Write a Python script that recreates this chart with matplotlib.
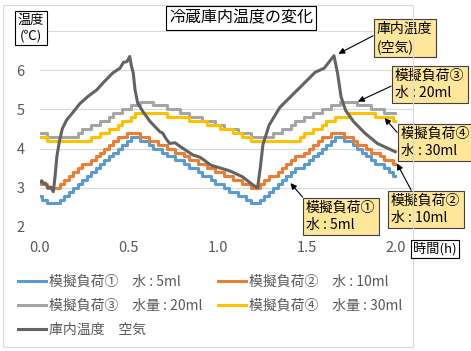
import matplotlib
matplotlib.use('Agg')
import matplotlib.pyplot as plt
from matplotlib.patches import Rectangle
import numpy as np

plt.rcParams['font.family'] = ['Noto Sans CJK JP', 'DejaVu Sans']

# 経過時間(h) 0.025h毎
t = np.linspace(0, 2.0, 81)

load1 = [2.8, 2.7, 2.6, 2.6, 2.6, 2.7, 2.8, 2.9, 3.0, 3.1, 3.2, 3.3, 3.4, 3.5, 3.6, 3.7, 3.8, 3.9, 4.0, 4.1,
         4.2, 4.3, 4.3, 4.2, 4.2, 4.1, 4.0, 4.0, 3.9, 3.8, 3.8, 3.7, 3.7, 3.6, 3.5, 3.5, 3.4, 3.3, 3.3, 3.2,
         3.1, 3.1, 3.0, 2.9, 2.9, 2.8, 2.8, 2.7, 2.6, 2.6, 2.7, 2.8, 2.9, 3.0, 3.1, 3.2, 3.3, 3.4, 3.5, 3.5,
         3.6, 3.7, 3.8, 3.9, 4.0, 4.1, 4.2, 4.3, 4.3, 4.2, 4.2, 4.1, 4.0, 3.9, 3.8, 3.7, 3.6, 3.6, 3.5, 3.4,
         3.3]
load2 = [3.1, 3.1, 3.0, 3.0, 3.0, 3.1, 3.2, 3.3, 3.4, 3.5, 3.6, 3.6, 3.7, 3.8, 3.9, 4.0, 4.1, 4.2, 4.3, 4.3,
         4.4, 4.4, 4.4, 4.3, 4.3, 4.2, 4.2, 4.1, 4.1, 4.0, 4.0, 3.9, 3.9, 3.8, 3.7, 3.7, 3.6, 3.6, 3.5, 3.5,
         3.4, 3.4, 3.3, 3.3, 3.2, 3.2, 3.1, 3.1, 3.0, 3.0, 3.1, 3.2, 3.3, 3.3, 3.4, 3.5, 3.6, 3.7, 3.8, 3.8,
         3.9, 4.0, 4.1, 4.2, 4.3, 4.3, 4.4, 4.4, 4.4, 4.3, 4.3, 4.2, 4.1, 4.1, 4.0, 3.9, 3.9, 3.8, 3.7, 3.7,
         3.6]
load3 = [4.4, 4.4, 4.3, 4.3, 4.3, 4.3, 4.3, 4.3, 4.3, 4.4, 4.5, 4.5, 4.6, 4.6, 4.7, 4.7, 4.8, 4.9, 4.9, 5.0,
         5.0, 5.1, 5.1, 5.2, 5.2, 5.2, 5.1, 5.1, 5.1, 5.0, 5.0, 5.0, 4.9, 4.9, 4.8, 4.8, 4.8, 4.7, 4.7, 4.7,
         4.6, 4.6, 4.5, 4.5, 4.5, 4.4, 4.4, 4.4, 4.3, 4.3, 4.3, 4.3, 4.3, 4.4, 4.4, 4.5, 4.5, 4.6, 4.7, 4.7,
         4.8, 4.8, 4.9, 4.9, 5.0, 5.0, 5.1, 5.1, 5.2, 5.2, 5.2, 5.2, 5.1, 5.1, 5.1, 5.0, 5.0, 5.0, 4.9, 4.9,
         4.9]
load4 = [4.3, 4.3, 4.2, 4.2, 4.2, 4.2, 4.2, 4.2, 4.2, 4.2, 4.2, 4.2, 4.3, 4.3, 4.4, 4.4, 4.5, 4.5, 4.6, 4.7,
         4.7, 4.8, 4.9, 4.9, 4.9, 4.9, 4.9, 4.9, 4.9, 4.8, 4.8, 4.8, 4.8, 4.8, 4.7, 4.7, 4.7, 4.7, 4.6, 4.6,
         4.6, 4.5, 4.5, 4.5, 4.4, 4.4, 4.3, 4.3, 4.2, 4.2, 4.2, 4.2, 4.2, 4.2, 4.2, 4.2, 4.2, 4.2, 4.2, 4.3,
         4.4, 4.4, 4.5, 4.5, 4.6, 4.7, 4.7, 4.8, 4.8, 4.8, 4.9, 4.9, 4.9, 4.9, 4.9, 4.9, 4.8, 4.8, 4.8, 4.8,
         4.7]

# 庫内温度(空気)
t_air = [0.0, 0.01, 0.02, 0.03, 0.045, 0.06, 0.075, 0.085, 0.095, 0.11, 0.125, 0.15, 0.19, 0.225, 0.27,
         0.32, 0.36, 0.41, 0.45, 0.47, 0.49, 0.505, 0.515, 0.525, 0.535, 0.55, 0.58, 0.62, 0.675, 0.69,
         0.71, 0.73, 0.76, 0.79, 0.86, 0.9, 0.92, 0.96, 1.07, 1.14, 1.2, 1.225, 1.24, 1.255, 1.29, 1.35,
         1.45, 1.55, 1.6, 1.655, 1.675, 1.695, 1.72, 1.765, 1.83, 1.9, 2.0]
air = [3.15, 3.18, 3.1, 3.12, 3.0, 3.02, 2.9, 3.3, 3.8, 4.2, 4.5, 4.73, 4.95, 5.15, 5.33,
       5.5, 5.7, 5.93, 6.05, 6.2, 6.22, 6.35, 6.1, 5.93, 5.5, 5.16, 4.94, 4.69, 4.43, 4.4,
       4.25, 4.13, 4.15, 4.05, 3.84, 3.78, 3.72, 3.58, 3.43, 3.28, 3.07, 3.0, 3.5, 4.1, 4.6, 5.05,
       5.5, 5.95, 6.05, 6.37, 5.93, 5.32, 4.98, 4.69, 4.39, 4.13, 3.92]

names = ['模擬負荷①　水 : 5ml', '模擬負荷②　水 : 10ml', '模擬負荷③　水量 : 20ml',
         '模擬負荷④　水量 : 30ml', '庫内温度　空気']
colors = ['#5B9BD5', '#ED7D31', '#A5A5A5', '#FFC000', '#636363']

W, H = 471, 351
fig = plt.figure(figsize=(W / 100, H / 100), dpi=100)


def fx(x):
    return x / W


def fy(y):
    return 1 - y / H


ax = fig.add_axes([fx(40), fy(227), fx(413) - fx(40), fy(31) - fy(227)])

lines = []
for ys, c in zip([load1, load2, load3, load4], colors[:4]):
    l, = ax.plot(t, ys, color=c, lw=2.2, drawstyle='steps-mid')
    lines.append(l)
l, = ax.plot(t_air, air, color=colors[4], lw=2.2)
lines.append(l)

ax.set_xlim(0, 2.1)
ax.set_ylim(2, 7)
ax.set_xticks([0, 0.5, 1.0, 1.5, 2.0])
ax.set_xticklabels(['0.0', '0.5', '1.0', '1.5', '2.0'])
ax.set_yticks([2, 3, 4, 5, 6, 7])
ax.set_yticklabels(['2', '3', '4', '5', '6', ''])
ax.grid(axis='y', color='#D9D9D9', lw=0.8)
ax.set_axisbelow(True)
for s in ax.spines.values():
    s.set_visible(False)
ax.tick_params(length=0, labelsize=10.5, colors='#595959')
ax.tick_params(axis='x', pad=10)
ax.tick_params(axis='y', pad=11)

# 外枠
fig.add_artist(Rectangle((fx(3), fy(347)), fx(413) - fx(3), fy(5) - fy(347),
                         transform=fig.transFigure, fill=False, ec='#D9D9D9', lw=0.8))

box = dict(boxstyle='square,pad=0.2', fc='white', ec='black', lw=0.8)
fig.text(fx(241), fy(18), '冷蔵庫内温度の変化', ha='center', va='center', fontsize=11.5, bbox=box)
fig.text(fx(31), fy(28), '温度\n(℃)', ha='center', va='center', fontsize=9.5,
         linespacing=1.3, bbox=box)
fig.text(fx(435), fy(249), '時間(h)', ha='center', va='center', fontsize=9.5, bbox=box)

# 吹き出し
callouts = [
    ('庫内温度\n(空気)', (1.68, 6.42), 373, 18, (0, 0.63)),
    ('模擬負荷③\n水 : 20ml', (1.79, 5.2), 391, 65, (0, 0.5)),
    ('模擬負荷④\n水 : 30ml', (1.94, 4.78), 397, 123, (0, 0.68)),
    ('模擬負荷②\n水 : 10ml', (2.01, 3.62), 387, 190, (0.32, 1)),
    ('模擬負荷①\n水 : 5ml', (1.41, 3.12), 302, 197, (0, 1)),
]
for txt, xy, bx, by, rp in callouts:
    ax.annotate(txt, xy=xy, xycoords='data', xytext=(fx(bx + 4), fy(by + 4)),
                textcoords='figure fraction', ha='left', va='top', fontsize=10,
                linespacing=1.25, annotation_clip=False,
                bbox=dict(boxstyle='square,pad=0.25', fc='#FFE699', ec='#404040', lw=0.8),
                arrowprops=dict(arrowstyle='-|>', color='black', lw=0.8, mutation_scale=9,
                                relpos=rp, shrinkA=0, shrinkB=0))

# 凡例 (2列)
for idx, x0 in [([0, 2, 4], 18), ([1, 3], 218)]:
    leg = fig.legend([lines[i] for i in idx], [names[i] for i in idx], ncol=1,
                     loc='upper left', bbox_to_anchor=(fx(x0), fy(275)), frameon=False,
                     fontsize=10, handlelength=2.0, handletextpad=0.2,
                     labelspacing=0.7, borderaxespad=0, borderpad=0)
    for txt in leg.get_texts():
        txt.set_color('#595959')

fig.savefig('out.png', dpi=100)
